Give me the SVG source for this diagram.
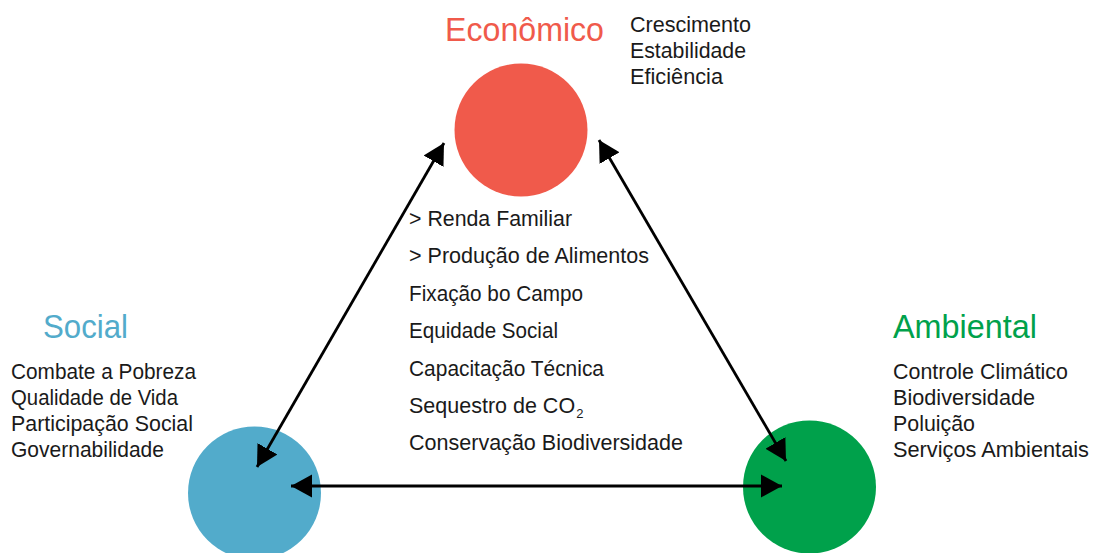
<svg xmlns="http://www.w3.org/2000/svg" width="1095" height="553" viewBox="0 0 1095 553">
<style>
.t{font-family:"Liberation Sans",Arial,sans-serif;font-size:21.5px;fill:#1a1a1a}
.h{font-family:"Liberation Sans",Arial,sans-serif;font-size:34px}
.c{stroke:#000;stroke-width:2.8;fill:none;marker-start:url(#ah);marker-end:url(#ah)}
</style>
<defs>
<marker id="ah" markerUnits="userSpaceOnUse" markerWidth="22" markerHeight="24" refX="21" refY="11.5" orient="auto-start-reverse" viewBox="0 0 22 23">
<path d="M0,0 L21,11.5 L0,23 z" fill="#000"/>
</marker>
</defs>
<rect width="1095" height="553" fill="#fff"/>
<g id="economico">
<circle cx="521" cy="130" r="66.5" fill="#F05A4B"/>
<text class="h" x="445" y="41" fill="#F05A4B" textLength="159" lengthAdjust="spacingAndGlyphs">Econômico</text>
<text class="t" x="630" y="32" textLength="121" lengthAdjust="spacingAndGlyphs">Crescimento</text>
<text class="t" x="630" y="58" textLength="116" lengthAdjust="spacingAndGlyphs">Estabilidade</text>
<text class="t" x="630" y="84" textLength="93" lengthAdjust="spacingAndGlyphs">Eficiência</text>
</g>
<g id="social">
<circle cx="254.5" cy="493" r="66.5" fill="#52ABCB"/>
<text class="h" x="43" y="338" fill="#52ABCB" textLength="85" lengthAdjust="spacingAndGlyphs">Social</text>
<text class="t" x="11" y="379" textLength="185" lengthAdjust="spacingAndGlyphs">Combate a Pobreza</text>
<text class="t" x="11" y="405" textLength="167" lengthAdjust="spacingAndGlyphs">Qualidade de Vida</text>
<text class="t" x="11" y="431" textLength="182" lengthAdjust="spacingAndGlyphs">Participação Social</text>
<text class="t" x="11" y="457" textLength="153" lengthAdjust="spacingAndGlyphs">Governabilidade</text>
</g>
<g id="ambiental">
<circle cx="809.5" cy="487" r="66.5" fill="#00A14B"/>
<text class="h" x="893" y="338" fill="#00A14B" textLength="144" lengthAdjust="spacingAndGlyphs">Ambiental</text>
<text class="t" x="893" y="379" textLength="175" lengthAdjust="spacingAndGlyphs">Controle Climático</text>
<text class="t" x="893" y="405" textLength="142" lengthAdjust="spacingAndGlyphs">Biodiversidade</text>
<text class="t" x="893" y="431" textLength="82" lengthAdjust="spacingAndGlyphs">Poluição</text>
<text class="t" x="893" y="457" textLength="196" lengthAdjust="spacingAndGlyphs">Serviços Ambientais</text>
</g>
<g id="beneficios">
<text class="t" x="409" y="226" textLength="163" lengthAdjust="spacingAndGlyphs">&gt; Renda Familiar</text>
<text class="t" x="409" y="263" textLength="240" lengthAdjust="spacingAndGlyphs">&gt; Produção de Alimentos</text>
<text class="t" x="409" y="301" textLength="174" lengthAdjust="spacingAndGlyphs">Fixação bo Campo</text>
<text class="t" x="409" y="338" textLength="149" lengthAdjust="spacingAndGlyphs">Equidade Social</text>
<text class="t" x="409" y="376" textLength="195" lengthAdjust="spacingAndGlyphs">Capacitação Técnica</text>
<text class="t" x="409" y="413">Sequestro de CO<tspan font-size="13" dx="1" dy="5">2</tspan></text>
<text class="t" x="409" y="450" textLength="274" lengthAdjust="spacingAndGlyphs">Conservação Biodiversidade</text>
</g>
<g id="connectors">
<line class="c" x1="444" y1="143" x2="257" y2="467"/>
<line class="c" x1="599" y1="140" x2="786" y2="461"/>
<line class="c" x1="291" y1="486" x2="782" y2="486"/>
</g>
</svg>
